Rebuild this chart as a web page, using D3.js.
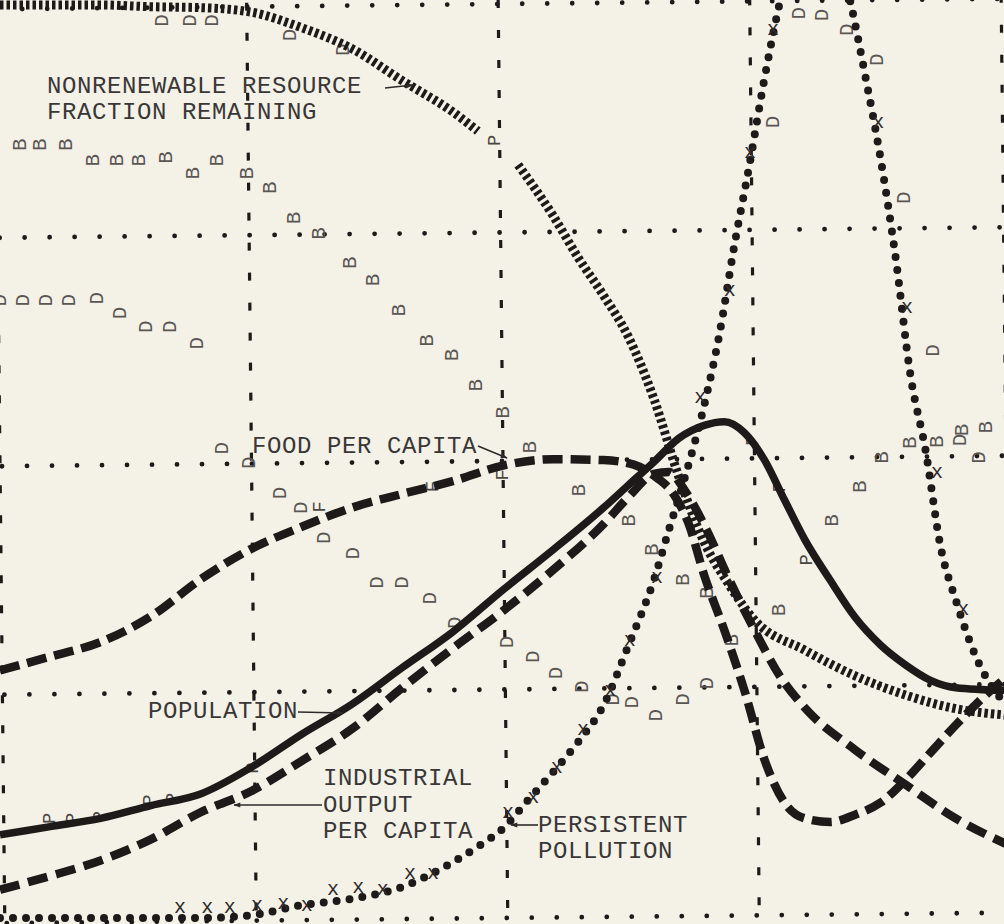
<!DOCTYPE html>
<html>
<head>
<meta charset="utf-8">
<script src="https://cdnjs.cloudflare.com/ajax/libs/d3/7.8.5/d3.min.js"></script>
<style>
  html, body { margin: 0; padding: 0; background: #f4f2e7; }
  svg { display: block; }
</style>
</head>
<body>
<svg width="1004" height="924"></svg>
<script>
// grid: every 50 years across, quarters of the scale up
var gridYears = [1900, 1950, 2000, 2050, 2100];
var gridLevels = [0, 25, 50, 75, 100];

// curves, value = percent of the plot height
var populationYears = [1900, 1910, 1920, 1930, 1940, 1950, 1960, 1970, 1980, 1990, 2000, 2010, 2020, 2025, 2030, 2035, 2040, 2044, 2048, 2052, 2056, 2060, 2065, 2070, 2075, 2080, 2085, 2090, 2100];
var populationValues = [9.1, 10.0, 10.9, 12.3, 13.6, 16.5, 20.1, 23.4, 27.4, 31.3, 35.9, 40.3, 44.9, 47.4, 49.9, 52.5, 53.9, 54.3, 53.1, 50.1, 45.7, 41.4, 37.0, 32.9, 29.9, 27.7, 26.0, 25.2, 24.9];

var industryYears = [1900, 1910, 1920, 1930, 1940, 1950, 1960, 1970, 1980, 1990, 2000, 2010, 2020, 2025, 2030, 2033, 2036, 2040, 2045, 2050, 2055, 2060, 2070, 2080, 2090, 2100];
var industryValues = [3.1, 4.6, 6.3, 8.6, 11.6, 13.9, 17.2, 20.7, 25.2, 29.5, 33.6, 38.1, 43.1, 46.1, 48.6, 48.8, 46.9, 43.0, 37.0, 31.5, 26.5, 23.0, 18.4, 14.6, 10.9, 8.1];

var foodYears = [1900, 1910, 1920, 1930, 1940, 1950, 1960, 1970, 1980, 1990, 2000, 2010, 2020, 2026, 2030, 2034, 2037, 2040, 2044, 2048, 2052, 2056, 2060, 2065, 2070, 2075, 2080, 2085, 2090, 2095, 2100];
var foodValues = [27.1, 28.6, 30.2, 33.0, 37.1, 40.4, 42.8, 44.9, 46.4, 47.8, 49.5, 50.2, 50.1, 49.6, 48.4, 46.3, 43.0, 37.5, 31.5, 24.9, 17.3, 12.6, 10.9, 10.5, 11.3, 12.6, 15.1, 18.1, 21.1, 23.9, 26.3];

var resourceYears = [1900, 1910, 1920, 1930, 1940, 1950, 1960, 1970, 1980, 1990, 1995, 1999, 2003, 2010, 2015, 2020, 2025, 2030, 2035, 2040, 2045, 2050, 2060, 2070, 2080, 2090, 2100];
var resourceValues = [99.9, 99.9, 99.9, 99.7, 99.6, 99.1, 97.4, 95.1, 91.6, 88.2, 86.1, null, 82.4, 76.8, 72.2, 68.1, 63.5, 56.8, 48.2, 41.1, 36.4, 32.6, 29.3, 26.5, 24.4, 22.9, 22.2];

var pollutionYears = [1900, 1920, 1940, 1950, 1960, 1970, 1980, 1990, 1995, 2000, 2005, 2010, 2015, 2020, 2025, 2030, 2033, 2036, 2040, 2043, 2046, 2049, 2052, 2055, 2058, 2062, 2066, 2069, 2072, 2075, 2078, 2081, 2084, 2087, 2090, 2094, 2100];
var pollutionValues = [0, 0, 0, 0.3, 1.4, 2.1, 3.4, 6.1, 7.8, 9.8, 12.9, 16.0, 19.3, 23.3, 29.9, 37.0, 42.5, 47.9, 56.1, 63.8, 73.6, 82.4, 91.9, 100.1, 106.8, 110.4, 106.8, 100.4, 92.2, 83.3, 72.5, 59.4, 51.2, 40.6, 34.8, 28.6, 23.3];

// printed plot letters [year, value]
var birthMarks = [[1904, 84.6], [1908, 84.6], [1913.3, 84.6], [1918.5, 82.9], [1923.3, 82.9], [1927.8, 82.9], [1933.2, 83.2], [1938.4, 81.5], [1943.3, 82.9], [1949.3, 81.5], [1953.7, 79.9], [1958.6, 76.6], [1963.6, 74.9], [1969.6, 71.7], [1974.2, 69.8], [1979.5, 66.5], [1984.9, 63.2], [1989.9, 61.6], [1994.8, 58.3], [2000, 55.3], [2005.4, 51.5], [2015.3, 46.8], [2025.2, 43.5], [2029.8, 40.3], [2035.8, 37.0], [2040.6, 35.6], [2045.7, 30.4], [2055, 33.7], [2065.6, 43.5], [2071, 47.2], [2075.5, 50.4], [2081, 52.0], [2086.3, 52.1], [2091.3, 53.4], [2096.2, 53.7]];
var deathMarks = [[1932.4, 98.2], [1937.8, 98.2], [1942.3, 98.2], [1957.7, 96.6], [1968.2, 95.0], [1900, 67.6], [1904.6, 67.6], [1909.3, 67.6], [1913.9, 67.6], [1919.3, 67.8], [1923.9, 66.2], [1929.2, 64.7], [1933.8, 64.7], [1939.2, 62.9], [1944.3, 51.4], [1949.7, 49.8], [1955.7, 46.5], [1960, 44.9], [1964.6, 41.6], [1970.2, 39.9], [1975.1, 36.7], [1980.1, 36.7], [1985.5, 35.0], [1990.5, 32.3], [2000.8, 30.2], [2006, 28.6], [2010.7, 26.8], [2015.9, 25.3], [2021.9, 23.9], [2025.8, 23.6], [2030.6, 22.2], [2035.8, 23.9], [2040.6, 25.7], [2053.7, 87.1], [2059, 99.0], [2063.6, 98.8], [2068.4, 97.2], [2074.4, 93.9], [2079.9, 78.8], [2085.5, 62.1], [2090.9, 52.3], [2094.8, 50.4]];
var pollutionMarks = [[1935.8, 1.2], [1941.2, 1.2], [1945.7, 1.2], [1951.1, 1.4], [1956.3, 1.6], [1961, 1.4], [1966.2, 3.1], [1971.2, 3.3], [1976.1, 3.1], [1981.5, 4.9], [1986.1, 4.9], [2001, 11.5], [2006, 13.2], [2010.7, 16.5], [2015.9, 20.6], [2021.3, 24.9], [2025.2, 30.4], [2030.6, 37.3], [2039.2, 57.0], [2045.1, 68.7], [2049.1, 83.7], [2053.7, 97.2], [2074.6, 87.0], [2080.3, 66.8], [2086.3, 48.7], [2091.5, 33.7]];
var populationMarks = [[1910, 10.9], [1914.5, 10.9], [1919.9, 11.1], [1929.8, 12.9], [1934.4, 13.1], [1950.3, 16.4], [1998.4, 85.1], [2049.7, 52.3], [2055.1, 47.2], [2060.4, 39.2]];
var foodMarks = [[1963.6, 45.0], [1986.1, 47.2], [2000, 48.5]];

var svg = d3.select("svg"),
    width = +svg.attr("width"),
    height = +svg.attr("height"),
    ink = "#1e1a1a";

var x = d3.scaleLinear().domain([1900, 2100]).range([0, 1006]);
var y = d3.scaleLinear().domain([0, 100]).range([918, 4]);

svg.append("rect").attr("width", width).attr("height", height).attr("fill", "#f4f2e7");

// the scan is turned a little, so the grid is too
var grid = svg.append("g").attr("transform", "rotate(-0.6, 502, 462)");

gridLevels.forEach(function (v) {
    grid.append("line")
        .attr("x1", -23).attr("x2", width + 30)
        .attr("y1", y(v)).attr("y2", y(v))
        .attr("stroke", ink)
        .attr("stroke-width", 4.8)
        .attr("stroke-linecap", "round")
        .attr("stroke-dasharray", "0,25");
});

gridYears.forEach(function (yr) {
    grid.append("line")
        .attr("x1", x(yr)).attr("x2", x(yr))
        .attr("y1", 0).attr("y2", height + 20)
        .attr("stroke", ink)
        .attr("stroke-width", 3.2)
        .attr("stroke-dasharray", "8,22");
});

function pairs(years, values) {
    return years.map(function (yr, i) { return [yr, values[i]]; });
}

var line = d3.line()
    .defined(function (d) { return d[1] != null; })
    .x(function (d) { return x(d[0]); })
    .y(function (d) { return y(d[1]); })
    .curve(d3.curveMonotoneX);

// printed letters, turned on their side like the printer output
function letters(marks, ch, size, color) {
    svg.append("g").selectAll("text")
        .data(marks)
        .enter().append("text")
        .attr("transform", function (d) {
            return "translate(" + x(d[0]) + "," + y(d[1]) + ") rotate(-90)";
        })
        .attr("text-anchor", "middle")
        .attr("dominant-baseline", "central")
        .attr("font-family", "Liberation Mono, DejaVu Sans Mono, monospace")
        .attr("font-size", size)
        .attr("fill", color)
        .text(ch);
}

letters(birthMarks, "B", 21, "#5a5654");
letters(deathMarks, "D", 21, "#5a5654");
letters(populationMarks, "P", 19, "#4a4644");
letters(foodMarks, "F", 19, "#4a4644");

svg.append("path")
    .attr("d", line(pairs(populationYears, populationValues)))
    .attr("fill", "none")
    .attr("stroke", ink)
    .attr("stroke-width", 7.5);

svg.append("path")
    .attr("d", line(pairs(foodYears, foodValues)))
    .attr("fill", "none")
    .attr("stroke", ink)
    .attr("stroke-width", 8.5)
    .attr("stroke-dasharray", "20,8");

svg.append("path")
    .attr("d", line(pairs(industryYears, industryValues)))
    .attr("fill", "none")
    .attr("stroke", ink)
    .attr("stroke-width", 8.5)
    .attr("stroke-dasharray", "20,9");

svg.append("path")
    .attr("d", line(pairs(resourceYears, resourceValues)))
    .attr("fill", "none")
    .attr("stroke", ink)
    .attr("stroke-width", 9)
    .attr("stroke-dasharray", "3.5,3");

svg.append("path")
    .attr("d", line(pairs(pollutionYears, pollutionValues)))
    .attr("fill", "none")
    .attr("stroke", ink)
    .attr("stroke-width", 8)
    .attr("stroke-linecap", "round")
    .attr("stroke-dasharray", "0,13");

svg.append("g").selectAll("text")
    .data(pollutionMarks)
    .enter().append("text")
    .attr("x", function (d) { return x(d[0]); })
    .attr("y", function (d) { return y(d[1]); })
    .attr("text-anchor", "middle")
    .attr("dominant-baseline", "central")
    .attr("font-family", "Liberation Mono, DejaVu Sans Mono, monospace")
    .attr("font-size", 20)
    .attr("fill", "#2e2a2a")
    .text("x");

// labels and their arrows
svg.append("defs").append("marker")
    .attr("id", "head")
    .attr("viewBox", "0 0 10 10")
    .attr("refX", 9).attr("refY", 5)
    .attr("markerWidth", 9).attr("markerHeight", 7)
    .attr("markerUnits", "userSpaceOnUse")
    .attr("orient", "auto")
    .append("path")
    .attr("d", "M0,1.5 L10,5 L0,8.5 Z")
    .attr("fill", "#2e2a2a");

var labelFont = "Liberation Mono, Courier New, DejaVu Sans Mono, monospace";

function label(lines, lx, ly, step) {
    lines.forEach(function (t, i) {
        svg.append("text")
            .attr("x", lx)
            .attr("y", ly + i * step)
            .attr("font-family", labelFont)
            .attr("font-size", 24)
            .attr("letter-spacing", 0.6)
            .attr("fill", "#3a3636")
            .text(t);
    });
}

function arrow(x1, y1, x2, y2) {
    svg.append("line")
        .attr("x1", x1).attr("y1", y1)
        .attr("x2", x2).attr("y2", y2)
        .attr("stroke", "#2e2a2a")
        .attr("stroke-width", 1.6)
        .attr("marker-end", "url(#head)");
}

label(["NONRENEWABLE RESOURCE", "FRACTION REMAINING"], 47, 93, 26);
arrow(385, 88, 413, 85);

label(["FOOD PER CAPITA"], 252, 453, 0);
arrow(478, 446, 507, 458);

label(["POPULATION"], 148, 718, 0);
arrow(298, 712, 343, 713);

label(["INDUSTRIAL", "OUTPUT", "PER CAPITA"], 323, 785, 26.5);
arrow(322, 805, 234, 805);

label(["PERSISTENT", "POLLUTION"], 538, 832, 26);
arrow(538, 825, 511, 825);
</script>
</body>
</html>
